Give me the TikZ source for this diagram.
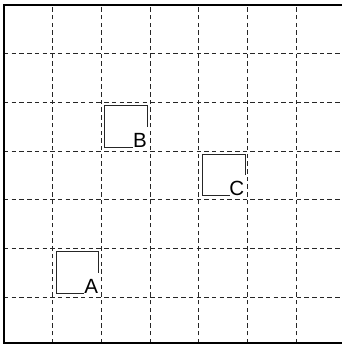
\documentclass[tikz,border=0pt]{standalone}
\usepackage{fontspec}
\setsansfont{Liberation Sans}
\tikzset{
  gridline/.style={black!85,line width=0.6pt,dash pattern=on 2.6pt off 1.9pt},
  frameline/.style={black,line width=1.3pt},
  roomline/.style={black!85,line width=0.6pt},
  roomlabel/.style={font=\sffamily\fontsize{12}{14}\selectfont,inner xsep=0.3pt,inner ysep=0pt,anchor=base east}
}
\begin{document}
\begin{tikzpicture}
  \def\N{7}      % cells per side
  \def\XA{0.07}  % room left inset
  \def\XB{0.95}  % room right edge
  \def\YA{0.08}  % room bottom inset
  \def\YB{0.93}  % room top edge
  % Clip to the visible part of the board
  \clip (-0.082,0.0185) rectangle (6.94,7.103);
  % dashed grid
  \foreach \i in {1,...,6} {
    \draw[gridline] (\i,0.06) -- (\i,\N);
    \draw[gridline] (0,\i) -- (\N,\i);
  }
  % board frame
  \draw[frameline] (0,0.06) rectangle (\N,\N);
  % rooms with their letters in the lower right corner
  \foreach \col/\row/\lab in {1/1/A,2/4/B,4/3/C} {
    \draw[roomline] (\col+\XB,\row+0.5*\YA+0.5*\YB) -- (\col+\XB,\row+\YB)
      -- (\col+\XA,\row+\YB) -- (\col+\XA,\row+\YA) -- (\col+0.64,\row+\YA);
    \node[roomlabel] (room\lab) at (\col+\XB,\row+\YA) {\lab};
  }
\end{tikzpicture}
\end{document}
